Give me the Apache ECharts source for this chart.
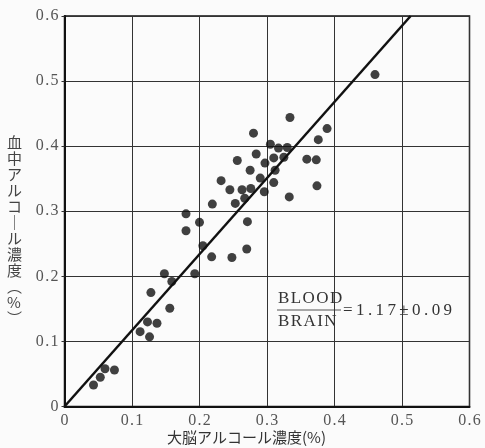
<!DOCTYPE html>
<html><head><meta charset="utf-8">
<script src="https://cdn.jsdelivr.net/npm/echarts@6/dist/echarts.min.js"></script>
<style>html,body{margin:0;padding:0;background:#fbfbfb}#c{width:485px;height:448px}</style>
</head><body><div id="c"></div>
<script>
// brain alcohol concentration (%)
const brain = [0.460,0.334,0.389,0.280,0.376,0.305,0.317,0.330,0.284,0.256,
  0.297,0.310,0.325,0.359,0.373,0.275,0.312,0.290,0.232,0.310,
  0.374,0.245,0.263,0.276,0.296,0.267,0.333,0.219,0.253,0.180,
  0.200,0.180,0.271,0.205,0.218,0.248,0.270,0.148,0.193,0.159,
  0.128,0.156,0.123,0.137,0.112,0.126,0.060,0.074,0.053,0.043];
// blood alcohol concentration (%)
const blood = [0.510,0.444,0.427,0.420,0.410,0.403,0.397,0.398,0.388,0.378,
  0.374,0.382,0.383,0.380,0.379,0.363,0.363,0.351,0.347,0.344,
  0.339,0.333,0.333,0.335,0.330,0.320,0.322,0.311,0.312,0.296,
  0.283,0.270,0.284,0.247,0.230,0.229,0.242,0.204,0.204,0.192,
  0.175,0.151,0.130,0.128,0.115,0.107,0.058,0.056,0.045,0.033];
const ratio = 1.17;
const fitX = [0, 0.6 / ratio];
const fitY = [0, 0.6];
const tickLabels = ['0','0.1','0.2','0.3','0.4','0.5','0.6'];
const xTitle = '大脳アルコール濃度(%)';
const yTitleChars = ['血','中','ア','ル','コ','｜','ル','濃','度','︵','%','︶'];

const serif = '"Liberation Serif","DejaVu Serif",serif';
const spaced = (s, sp) => s.split('').join(sp);
const chart = echarts.init(document.getElementById('c'));
chart.setOption({
  backgroundColor: '#fbfbfb',
  animation: false,
  grid: {left: 64.5, right: 15.5, top: 16, bottom: 41.5, show: true, borderColor: '#111', borderWidth: 1.5, backgroundColor: 'transparent'},
  xAxis: {type: 'value', min: 0, max: 0.6, interval: 0.1,
    axisLine: {show: true, lineStyle: {color: '#111', width: 2}},
    axisTick: {show: false},
    splitLine: {show: true, lineStyle: {color: '#333', width: 1}},
    axisLabel: {formatter: (v) => spaced(tickLabels[Math.round(v * 10)], '\u200A'), color: '#555', fontFamily: serif, fontSize: 16, margin: 6}
  },
  yAxis: {type: 'value', min: 0, max: 0.6, interval: 0.1,
    axisLine: {show: true, lineStyle: {color: '#111', width: 2}},
    axisTick: {show: true, length: 3, lineStyle: {color: '#333'}},
    splitLine: {show: true, lineStyle: {color: '#333', width: 1}},
    axisLabel: {formatter: (v) => spaced(tickLabels[Math.round(v * 10)], '\u200A'), color: '#555', fontFamily: serif, fontSize: 16, margin: 6}
  },
  graphic: [
    {type: 'text', left: 167, top: 430, style: {text: xTitle, font: '15px "Noto Sans CJK JP", sans-serif', fill: '#333'}},
    {type: 'text', left: 7, top: 134, style: {text: yTitleChars.join('\n'), font: '15px "Noto Sans CJK JP", sans-serif', fill: '#444', lineHeight: 16, align: 'center'}},
    {type: 'text', left: 278, top: 290, style: {text: spaced('BLOOD', '\u200A'), font: '17px ' + serif, fill: '#333'}},
    {type: 'line', shape: {x1: 277, y1: 310, x2: 341, y2: 310}, style: {stroke: '#555', lineWidth: 1}},
    {type: 'text', left: 278, top: 313, style: {text: spaced('BRAIN', '\u200A'), font: '17px ' + serif, fill: '#333'}},
    {type: 'text', left: 343, top: 302, style: {text: spaced('=1.17±0.09', '\u2009'), font: '17px ' + serif, fill: '#333'}}
  ],
  series: [
    {type: 'line', data: fitX.map((x, i) => [x, fitY[i]]), symbol: 'none', lineStyle: {color: '#111', width: 2.5}, z: 3},
    {type: 'scatter', data: brain.map((x, i) => [x, blood[i]]), symbolSize: 9, itemStyle: {color: '#111'}, z: 4}
  ]
});
</script></body></html>
